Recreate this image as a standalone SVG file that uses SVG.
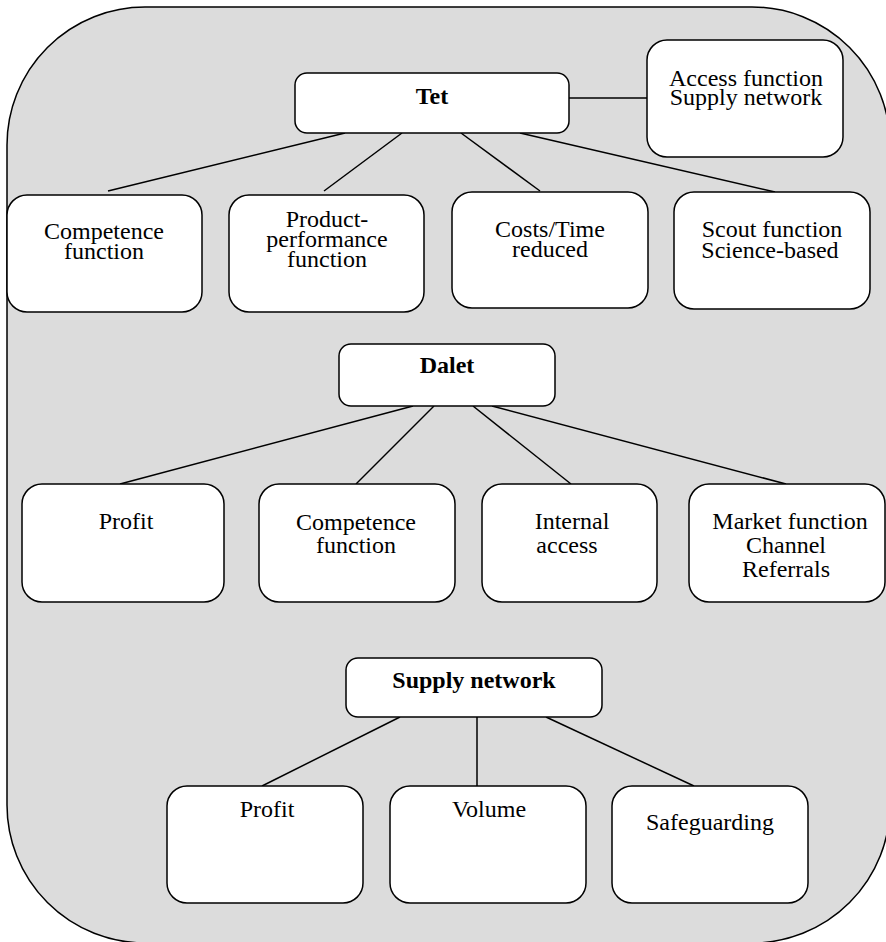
<svg xmlns="http://www.w3.org/2000/svg" width="886" height="942" viewBox="0 0 886 942">
  <style>
    .bg { fill: #dcdcdc; stroke: #000; stroke-width: 1.5; }
    .box { fill: #fff; stroke: #000; stroke-width: 1.5; }
    .conn line { stroke: #000; stroke-width: 1.5; }
    text { font-family: "Liberation Serif", "Times New Roman", serif; font-size: 24px; fill: #000; text-anchor: middle; }
    .head { font-weight: bold; }
  </style>

  <!-- shaded panel -->
  <rect class="bg" x="7" y="7" width="883" height="936" rx="138" ry="138"/>

  <!-- connectors -->
  <g id="connectors" class="conn">
    <line x1="569" y1="98" x2="647" y2="98"/>
    <line x1="345" y1="133" x2="108" y2="191"/>
    <line x1="402" y1="133" x2="324" y2="191"/>
    <line x1="461" y1="133" x2="540" y2="191"/>
    <line x1="520" y1="133" x2="775" y2="192"/>
    <line x1="413" y1="406" x2="120" y2="484"/>
    <line x1="434" y1="406" x2="356" y2="484"/>
    <line x1="473" y1="406" x2="571" y2="484"/>
    <line x1="492" y1="406" x2="786" y2="484"/>
    <line x1="400" y1="717" x2="262" y2="786"/>
    <line x1="477" y1="715" x2="477" y2="786"/>
    <line x1="546" y1="717" x2="694" y2="786"/>
  </g>

  <!-- Tet level -->
  <g id="tet">
    <rect class="box" x="295" y="73" width="274" height="60" rx="12"/>
    <text class="head" x="432" y="104">Tet</text>
  </g>
  <g id="access-function">
    <rect class="box" x="647" y="40" width="196" height="117" rx="20"/>
    <text x="746" y="86">Access function</text>
    <text x="746" y="105">Supply network</text>
  </g>
  <g id="tet-competence">
    <rect class="box" x="7" y="195" width="195" height="117" rx="20"/>
    <text x="104" y="239">Competence</text>
    <text x="104" y="259">function</text>
  </g>
  <g id="tet-product-performance">
    <rect class="box" x="229" y="195" width="195" height="117" rx="20"/>
    <text x="327" y="227">Product-</text>
    <text x="327" y="247">performance</text>
    <text x="327" y="267">function</text>
  </g>
  <g id="tet-costs-time">
    <rect class="box" x="452" y="192" width="196" height="116" rx="20"/>
    <text x="550" y="237">Costs/Time</text>
    <text x="550" y="257">reduced</text>
  </g>
  <g id="tet-scout">
    <rect class="box" x="674" y="192" width="196" height="117" rx="20"/>
    <text x="772" y="237">Scout function</text>
    <text x="770" y="258">Science-based</text>
  </g>

  <!-- Dalet level -->
  <g id="dalet">
    <rect class="box" x="339" y="344" width="216" height="62" rx="12"/>
    <text class="head" x="447" y="373">Dalet</text>
  </g>
  <g id="dalet-profit">
    <rect class="box" x="22" y="484" width="202" height="118" rx="20"/>
    <text x="126" y="529">Profit</text>
  </g>
  <g id="dalet-competence">
    <rect class="box" x="259" y="484" width="196" height="118" rx="20"/>
    <text x="356" y="530">Competence</text>
    <text x="356" y="553">function</text>
  </g>
  <g id="dalet-internal-access">
    <rect class="box" x="482" y="484" width="175" height="118" rx="20"/>
    <text x="572" y="529">Internal</text>
    <text x="567" y="553">access</text>
  </g>
  <g id="dalet-market">
    <rect class="box" x="689" y="484" width="196" height="118" rx="20"/>
    <text x="790" y="529">Market function</text>
    <text x="786" y="553">Channel</text>
    <text x="786" y="577">Referrals</text>
  </g>

  <!-- Supply network level -->
  <g id="supply-network">
    <rect class="box" x="346" y="658" width="256" height="59" rx="12"/>
    <text class="head" x="474" y="688">Supply network</text>
  </g>
  <g id="supply-profit">
    <rect class="box" x="167" y="786" width="196" height="117" rx="20"/>
    <text x="267" y="817">Profit</text>
  </g>
  <g id="supply-volume">
    <rect class="box" x="390" y="786" width="196" height="117" rx="20"/>
    <text x="489" y="817">Volume</text>
  </g>
  <g id="supply-safeguarding">
    <rect class="box" x="612" y="786" width="196" height="117" rx="20"/>
    <text x="710" y="830">Safeguarding</text>
  </g>
</svg>
